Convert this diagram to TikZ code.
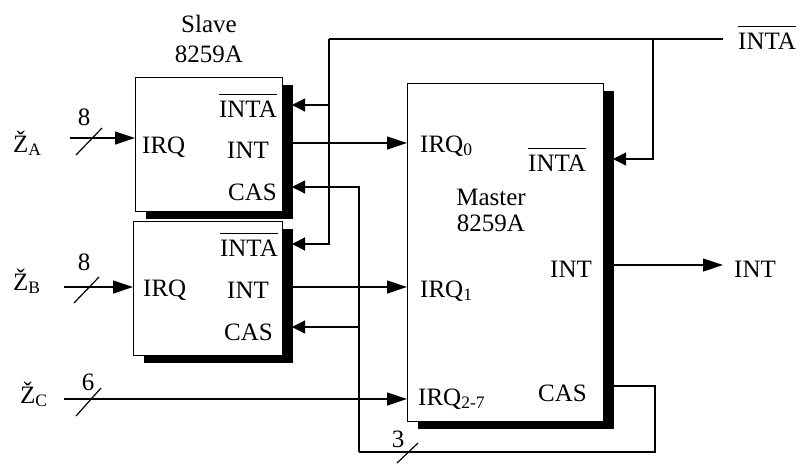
\documentclass[tikz,border=0pt]{standalone}
\usepackage{fontspec}
\setmainfont{Liberation Serif}
\usetikzlibrary{arrows.meta,shadows,positioning}

\tikzset{
  chip/.style={draw, fill=white, line width=1.2pt, anchor=north west,
    drop shadow={shadow xshift=10pt, shadow yshift=-7pt, fill=black, opacity=1}},
  lbl/.style={inner sep=0pt, font=\fontsize{25}{28}\selectfont},
  wire/.style={line width=1.2pt},
  sig/.style={wire, -{Triangle[length=20pt,width=13pt]}},
  ret/.style={wire, -{Triangle[length=13pt,width=13pt]}},
}
\newcommand{\nINTA}{\vbox{\hrule height 0.8pt\kern 6pt\hbox{INTA}}}

\begin{document}
\begin{tikzpicture}[x=1pt, y=-1pt]
    \useasboundingbox (0,0) rectangle (803,464);

    % Bausteine
    \node[chip, minimum width=147pt, minimum height=134pt] (slaveA) at (135,77) {};
    \node[chip, minimum width=149pt, minimum height=134pt] (slaveB) at (133,221) {};
    \node[chip, minimum width=196pt, minimum height=338pt] (master) at (407,83) {};

    % Beschriftung Slave
    \node[lbl, anchor=base] (slaveName) at (209,32) {Slave};
    \node[lbl, anchor=base] (slaveType) at (209,62) {8259A};
    \node[lbl, anchor=base east] (aINTA) at (277,117) {\nINTA};
    \node[lbl, anchor=base west] (aIRQ) at (142,153) {IRQ};
    \node[lbl, anchor=base west] (aINT) at (227,158) {INT};
    \node[lbl, anchor=base east] (aCAS) at (277,200) {CAS};
    \node[lbl, anchor=base east] (bINTA) at (278,256) {\nINTA};
    \node[lbl, anchor=base west] (bIRQ) at (143,296) {IRQ};
    \node[lbl, anchor=base west] (bINT) at (227,298) {INT};
    \node[lbl, anchor=base east] (bCAS) at (273,340) {CAS};

    % Beschriftung Master
    \node[lbl, anchor=base west] (mIRQa) at (420,152) {IRQ\textsubscript{0}};
    \node[lbl, anchor=base west] (mINTA) at (528,171) {\nINTA};
    \node[lbl, anchor=base] (masterName) at (491,205) {Master};
    \node[lbl, anchor=base] (masterType) at (491,231) {8259A};
    \node[lbl, anchor=base west] (mINT) at (550,277) {INT};
    \node[lbl, anchor=base west] (mIRQb) at (420,297) {IRQ\textsubscript{1}};
    \node[lbl, anchor=base west] (mCAS) at (538,401) {CAS};
    \node[lbl, anchor=base west] (mIRQc) at (418,405) {IRQ\textsubscript{2-7}};

    % Eingaenge und Ausgaenge
    \node[lbl, anchor=base west] (srcA) at (13,152) {Ž\textsubscript{A}};
    \node[lbl, anchor=base west] (srcB) at (13,290) {Ž\textsubscript{B}};
    \node[lbl, anchor=base west] (srcC) at (20,403) {Ž\textsubscript{C}};
    \node[lbl, anchor=base west] (extINTA) at (738,49) {\nINTA};
    \node[lbl, anchor=base west] (extINT) at (734,277) {INT};

    % Busbreiten
    \node[lbl, anchor=base] (wA) at (84,125) {8};
    \node[lbl, anchor=base] (wB) at (84,270) {8};
    \node[lbl, anchor=base] (wC) at (88,390) {6};
    \node[lbl, anchor=base] (wCAS) at (398,447) {3};

    % Anschlusspunkte
    \coordinate (inA) at (70,138);
    \coordinate (inB) at (64,287);
    \coordinate (inC) at (64,399);
    \coordinate (aOut) at (282,143);
    \coordinate (bOut) at (282,287);
    \coordinate (mOut) at (613,265);
    \coordinate (intaEnd) at (723,39);
    \coordinate (intaTop) at (329,39);
    \coordinate (intaTap) at (653,39);
    \coordinate (aIntaPin) at (292,105);
    \coordinate (bIntaPin) at (292,244);
    \coordinate (mIntaPin) at (613,159);
    \coordinate (aCasPin) at (292,187);
    \coordinate (bCasPin) at (292,327);
    \coordinate (mCasPin) at (613,386);
    \coordinate (casLeft) at (359,452);
    \coordinate (casRight) at (655,452);

    % Interrupt-Leitungen
    \draw[sig] (inA) -- (slaveA.west |- inA);
    \draw[sig] (inB) -- (slaveB.west |- inB);
    \draw[sig] (inC) -- (master.west |- inC);
    \draw[sig] (aOut) -- (master.west |- aOut);
    \draw[sig] (bOut) -- (master.west |- bOut);
    \draw[sig] (mOut) -- (mOut -| intaEnd);

    % INTA
    \draw[wire] (intaEnd) -- (intaTop);
    \draw[ret] (intaTop) |- (bIntaPin);
    \draw[ret] (intaTop |- aIntaPin) -- (aIntaPin);
    \draw[ret] (intaTap) |- (mIntaPin);

    % CAS
    \draw[wire] (mCasPin) -| (casRight) -- (casLeft);
    \draw[ret] (casLeft) |- (aCasPin);
    \draw[ret] (casLeft |- bCasPin) -- (bCasPin);

    % Schraegstriche
    \draw[wire] (76,155) -- (102,128);
    \draw[wire] (74,303) -- (99,277);
    \draw[wire] (76,416) -- (101,388);
    \draw[wire] (397,463) -- (418,443);
\end{tikzpicture}
\end{document}
